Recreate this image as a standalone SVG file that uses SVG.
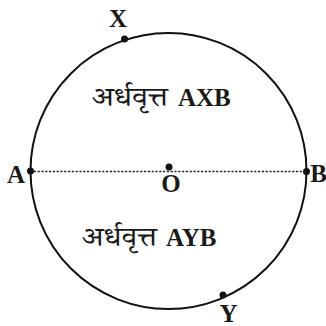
<svg xmlns="http://www.w3.org/2000/svg" width="326" height="326" viewBox="0 0 326 326">
<style>
.lbl{font-family:"Liberation Serif","Times New Roman",serif;font-weight:bold;font-size:25px;fill:#1a1a1a}
.hin{font-family:"Noto Serif Devanagari","Noto Sans Devanagari","Lohit Devanagari","Noto Sans",serif;font-size:27px;fill:#1a1a1a}
.dot{fill:#111}
</style>
<rect width="326" height="326" fill="#fff"/>
<g id="connectors">
<circle id="circle" cx="168.5" cy="171" r="138" fill="none" stroke="#111" stroke-width="2"/>
<line id="diameter" x1="30" y1="171.5" x2="307" y2="171.5" stroke="#222" stroke-width="1.6" stroke-dasharray="2.2 1.6"/>
</g>
<g id="A"><circle class="dot" cx="30.5" cy="171" r="3.5"/><text class="lbl" x="16" y="183" text-anchor="middle" font-size="23">A</text></g>
<g id="B"><circle class="dot" cx="306.5" cy="171.5" r="3.5"/><text class="lbl" x="318.5" y="182" text-anchor="middle" font-size="23">B</text></g>
<g id="O"><circle class="dot" cx="169" cy="167" r="3.5"/><text class="lbl" x="171" y="192" text-anchor="middle" font-weight="normal" font-size="26">O</text></g>
<g id="X"><circle class="dot" cx="124.5" cy="39" r="3.5"/><text class="lbl" x="118" y="27" text-anchor="middle" font-size="23">X</text></g>
<g id="Y"><circle class="dot" cx="223" cy="295" r="3.5"/><text class="lbl" x="228.5" y="322" text-anchor="middle" font-size="23">Y</text></g>
<g id="semicircle-AXB"><text x="92" y="106"><tspan class="hin" textLength="76" lengthAdjust="spacingAndGlyphs">अर्धवृत्त</tspan><tspan class="lbl" x="178">AXB</tspan></text></g>
<g id="semicircle-AYB"><text x="82" y="246"><tspan class="hin" textLength="75" lengthAdjust="spacingAndGlyphs">अर्धवृत्त</tspan><tspan class="lbl" x="166">AYB</tspan></text></g>
</svg>
